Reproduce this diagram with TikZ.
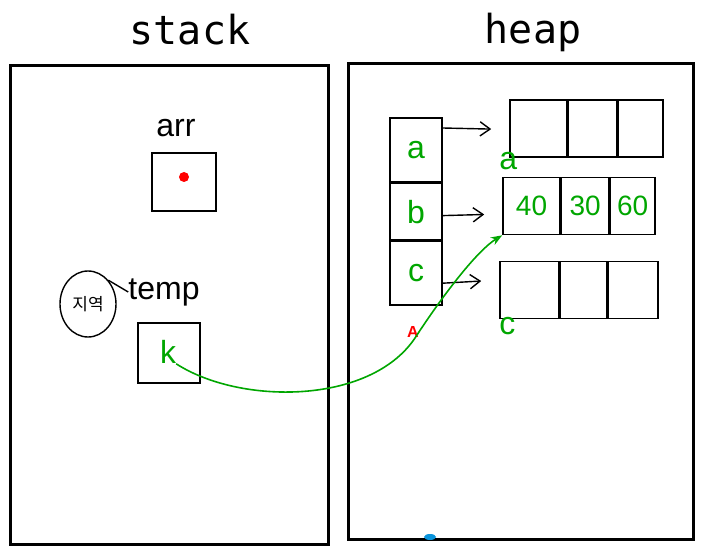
\documentclass[tikz,border=0pt]{standalone}
\usepackage{fontspec}
\setmainfont{Liberation Sans}
\setmonofont{DejaVu Sans Mono}
\newfontfamily\krfont{Noto Sans CJK KR}
\usetikzlibrary{arrows.meta,positioning,calc,shapes.geometric}

\begin{document}
\begin{tikzpicture}[x=1pt,y=-1pt,
      font=\fontsize{26}{28}\selectfont,
      area/.style={draw,line width=2.6pt,inner sep=0pt,anchor=north west},
      title/.style={font=\ttfamily\fontsize{40}{44}\selectfont,anchor=base},
      slot/.style={draw,line width=1.6pt,inner sep=0pt,minimum width=62pt,minimum height=60pt},
      cell/.style={draw,line width=1.6pt,inner sep=0pt,minimum width=50pt,minimum height=57pt,
                   text=green!65!black,font=\fontsize{28}{30}\selectfont},
      hand/.style={inner sep=0pt,font=\fontsize{32}{34}\selectfont},
      greentext/.style={hand,text=green!65!black},
      ptr/.style={-{Straight Barb[length=3.5mm,width=5mm]},line width=1.4pt,shorten >=18pt},
      link/.style={green!65!black,line width=1.6pt,-{Stealth[length=4mm,open]}}]
    \useasboundingbox (0,0) rectangle (714,556);
    % the two areas
    \node[area,minimum width=318pt,minimum height=479pt] (stackarea) at (9,64) {};
    \node[area,minimum width=345pt,minimum height=476pt] (heaparea) at (347,62) {};
    \node[title] (stacktitle) at (190,45) {stack};
    \node[title] (heaptitle) at (533,44) {heap};
    % stack side
    \node[hand] (arrname) at (176,128) {arr};
    \node[slot,minimum width=64pt,minimum height=58pt] (arrslot) at (184,182) {};
    \fill[red] (184,177) circle (5pt);
    \node[hand] (tempname) at (164,292) {temp};
    \node[slot,minimum width=62pt,minimum height=60pt] (tempslot) at (169,353) {};
    \node[greentext] (kval) at (168,352) {k};
    \node[draw,ellipse,line width=1.4pt,minimum width=56pt,minimum height=66pt,inner sep=0pt,
          font=\krfont\fontsize{17}{18}\selectfont] (scope) at (88,304) {지역};
    \draw[line width=1.4pt] (scope.north east) -- (tempname.west);
    % heap side
    \node[slot,minimum width=52pt,minimum height=64pt] (pa) at (416,150) {};
    \node[slot,minimum width=52pt,minimum height=56pt,below=0pt of pa] (pb) {};
    \node[slot,minimum width=52pt,minimum height=64pt,below=0pt of pb] (pc) {};
    \node[greentext] at (pa) {a};
    \node[greentext] at (pb) {b};
    \node[greentext] at (pc) {c};
    \node[cell,minimum width=57pt] (r1a) at (538.5,128.5) {};
    \node[cell,minimum width=48pt,right=0pt of r1a] (r1b) {};
    \node[cell,minimum width=45pt,right=0pt of r1b] (r1c) {};
    \node[cell,minimum width=57pt] (r2a) at (531.5,206) {40};
    \node[cell,minimum width=47pt,right=0pt of r2a] (r2b) {30};
    \node[cell,minimum width=45pt,right=0pt of r2b] (r2c) {60};
    \node[cell,minimum width=59pt] (r3a) at (529.5,290) {};
    \node[cell,minimum width=46pt,right=0pt of r3a] (r3b) {};
    \node[cell,minimum width=50pt,right=0pt of r3b] (r3c) {};
    \node[greentext,below right=-6pt and -10pt of r1a.south west] (alabel) {a};
    \node[greentext,below right=-2pt and 0pt of r3a.south west] (clabel) {c};
    \draw[ptr] ([yshift=22pt]pa.east) -- ([yshift=-1pt]r1a.west);
    \draw[ptr] ([yshift=-4pt]pb.east) -- ([yshift=-8pt]r2a.west);
    \draw[ptr] ([yshift=-10pt]pc.east) -- ([yshift=10pt]r3a.west);
    \node[hand,text=red,font=\bfseries\fontsize{16}{16}\selectfont] (tag) at (413,332) {A};
    \fill[cyan!80!blue] (430,537) ellipse (6pt and 3pt);
    % pointer from temp to the middle row
    \draw[link] (kval.south east) .. controls (240,405) and (370,405) .. (415,338)
          .. controls (445,292) and (478,250) .. (r2a.south west);
  \end{tikzpicture}
\end{document}
